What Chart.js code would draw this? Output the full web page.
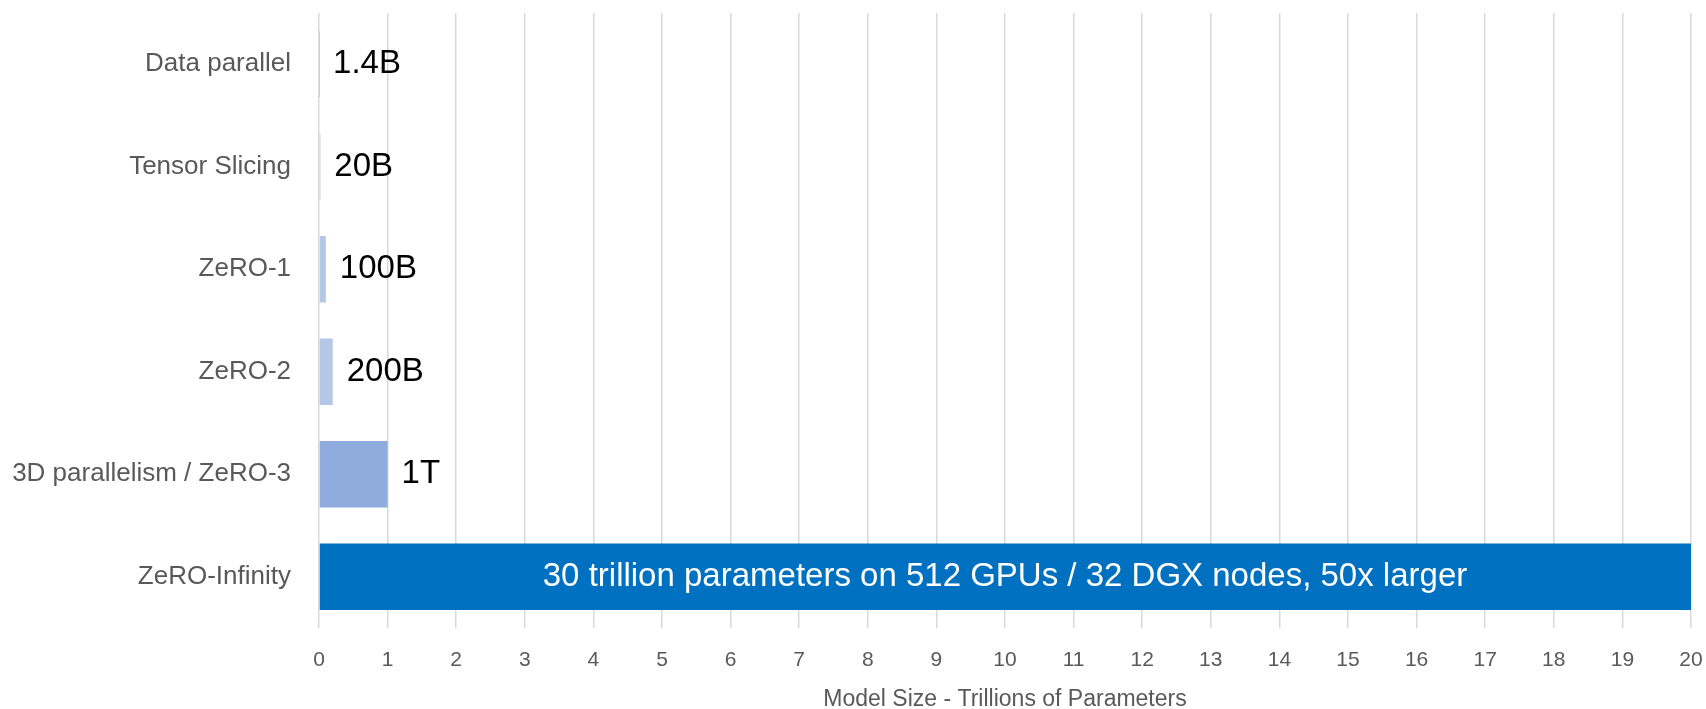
<!DOCTYPE html>
<html>
<head>
<meta charset="utf-8">
<script src="https://cdn.jsdelivr.net/npm/chart.js@4.4.1/dist/chart.umd.min.js"></script>
<style>
  html, body { margin: 0; padding: 0; background: #fff; }
  #wrap { width: 1706px; height: 709px; position: relative; }
</style>
</head>
<body>
<div id="wrap"><canvas id="size-chart"></canvas></div>
<script>
// model size in trillions of parameters
const categories = ['Data parallel', 'Tensor Slicing', 'ZeRO-1', 'ZeRO-2', '3D parallelism / ZeRO-3', 'ZeRO-Infinity'];
const sizes = [0.0014, 0.02, 0.1, 0.2, 1, 30];
const sizeLabels = ['1.4B', '20B', '100B', '200B', '1T', '30 trillion parameters on 512 GPUs / 32 DGX nodes, 50x larger'];
const barColors = ['#B4C7E7', '#B4C7E7', '#B4C7E7', '#B4C7E7', '#8FAADC', '#0070C0'];
const axisTitle = 'Model Size - Trillions of Parameters';

const FONT = "'Liberation Sans', Arial, sans-serif";

// values next to the bars, or inside the bar when it runs past the axis
const barLabelPlugin = {
    id: 'barLabels',
    afterDatasetsDraw(chart) {
        const ctx = chart.ctx;
        const area = chart.chartArea;
        const meta = chart.getDatasetMeta(0);
        ctx.save();
        ctx.font = '33px ' + FONT;
        ctx.textBaseline = 'middle';
        meta.data.forEach((bar, i) => {
            const txt = sizeLabels[i];
            if (bar.x > area.right) {
                ctx.fillStyle = '#ffffff';
                ctx.textAlign = 'center';
                ctx.fillText(txt, (area.left + area.right) / 2, bar.y);
            } else {
                ctx.fillStyle = '#000000';
                ctx.textAlign = 'left';
                ctx.fillText(txt, bar.x + 14, bar.y);
            }
        });
        ctx.restore();
    }
};

const ctx = document.getElementById('size-chart').getContext('2d');
new Chart(ctx, {
    type: 'bar',
    data: {
        labels: categories,
        datasets: [{ data: sizes, backgroundColor: barColors, barPercentage: 0.65, categoryPercentage: 1 }]
    },
    options: {
        indexAxis: 'y',
        responsive: true,
        maintainAspectRatio: false,
        animation: false,
        layout: { padding: { left: 0, right: 15, top: 13, bottom: 0 } },
        plugins: { legend: { display: false }, tooltip: { enabled: false } },
        scales: {
            x: {
                min: 0,
                max: 20,
                ticks: { stepSize: 1, color: '#595959', font: { family: FONT, size: 21 }, padding: 20 },
                grid: { color: '#D9D9D9', lineWidth: 1.5, drawTicks: false },
                border: { display: false },
                title: { display: true, text: axisTitle, color: '#595959', font: { family: FONT, size: 23, lineHeight: 0.8 }, padding: { top: 4, bottom: 0 } },
                afterFit: (scale) => {
                    scale.height = 81;
                    scale.paddingLeft = 0;
                    scale.paddingRight = 0;
                }
            },
            y: {
                ticks: { color: '#595959', font: { family: FONT, size: 26 }, padding: 28 },
                grid: { display: false, drawTicks: false },
                border: { display: false },
                afterFit: (scale) => {
                    scale.width = 319;
                    scale.paddingTop = 0;
                    scale.paddingBottom = 0;
                }
            }
        }
    },
    plugins: [barLabelPlugin]
});
</script>
</body>
</html>
